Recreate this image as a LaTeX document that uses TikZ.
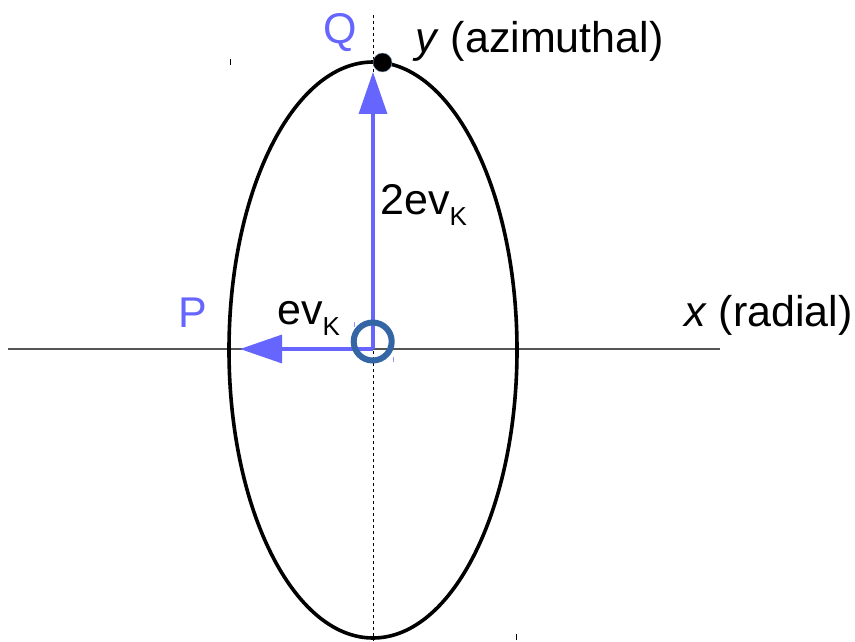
\documentclass[tikz,border=0pt]{standalone}
\usepackage{fontspec}
\setmainfont{Liberation Sans}
\usetikzlibrary{arrows.meta}
\definecolor{arrblue}{HTML}{6666FF}
\definecolor{circblue}{HTML}{3465A4}
\definecolor{axisgray}{HTML}{555555}
\tikzset{
  lbl/.style={inner sep=0pt, font=\fontsize{43}{47}\selectfont},
  bluelbl/.style={lbl, text=arrblue},
  vec/.style={draw=arrblue, line width=3.3pt, -{Triangle[length=42pt,width=28pt]}},
  tick/.style={draw=black, line width=1pt},
  handle/.style={draw=arrblue!70, line width=0.8pt}
}
\newcommand{\subK}{\raisebox{-11pt}{\fontsize{26}{26}\selectfont K}}
\begin{document}
\begin{tikzpicture}[x=1pt,y=-1pt]
\useasboundingbox (0,0) rectangle (855,642);
% axes
\coordinate (O) at (373,349);
\coordinate (xl) at (8,349);
\coordinate (xr) at (720,349);
\coordinate (yt) at (373,15);
\coordinate (yb) at (373,641);
\draw[axisgray, line width=1.4pt] (xl) -- (xr);
\draw[black, line width=0.9pt, dash pattern=on 3pt off 3pt] (yt) -- (yb);
% ellipse
\draw[black, line width=3.6pt] (373,350) ellipse [x radius=144, y radius=288];
% corner ticks
\draw[tick] (230,59) -- (230,65);
\draw[tick] (516,634) -- (516,640);
% vectors
\coordinate (Qtip) at (373,72);
\coordinate (Ptip) at (240,349);
\draw[vec] (O) -- (Qtip);
\draw[vec] (O) -- (Ptip);
% centre circle
\node[circle, draw=circblue, line width=6pt, minimum size=38pt, inner sep=0pt] (C) at (372.7,341.5) {};
\draw[handle] (354,322) -- (354,327);
\draw[handle] (393,357) -- (393,362);
% black dot
\node[circle, fill=black, draw=circblue!60, line width=0.4pt, minimum size=19pt, inner sep=0pt] (D) at (382.5,62.5) {};
% labels
\node[bluelbl, anchor=base] (Q) at (340,44) {Q};
\node[lbl, anchor=base west] (ylab) at (415,53) {\textit{y} (azimuthal)};
\node[lbl, anchor=base west] (two) at (380,214) {2ev\subK};
\node[bluelbl, anchor=base] (P) at (193,327) {P};
\node[lbl, anchor=base west] (ev) at (277,324) {ev\subK};
\node[lbl, anchor=base west] (xlab) at (684,326) {\textit{x} (radial)};
\end{tikzpicture}
\end{document}
